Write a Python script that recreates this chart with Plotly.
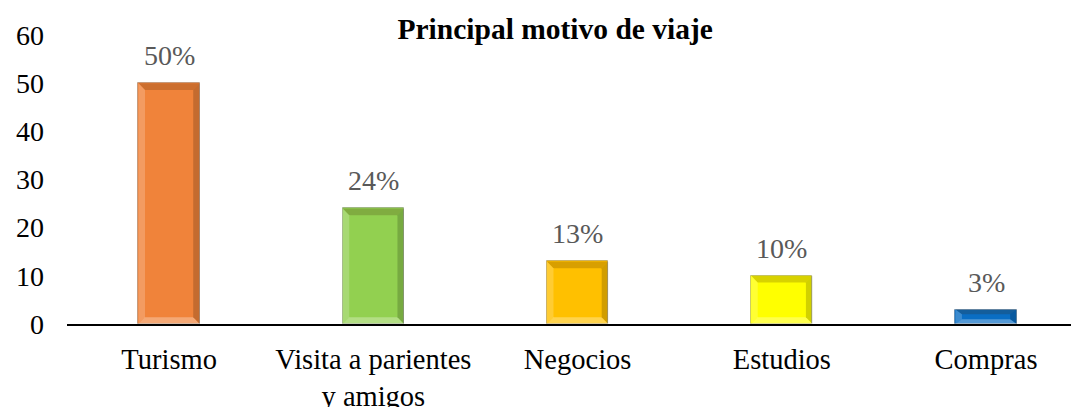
import plotly.graph_objects as go

categories = ["Turismo", "Visita a parientes<br>y amigos", "Negocios", "Estudios", "Compras"]
values = [50, 24, 13, 10, 3]
labels = ["50%", "24%", "13%", "10%", "3%"]
colors = ["#F0833A", "#92D050", "#FFC000", "#FFFF00", "#0A6EC4"]
y_ticks = [0, 10, 20, 30, 40, 50, 60]

BAR_W = 0.30
FONT = "Liberation Serif, Times New Roman, serif"

fig = go.Figure()
fig.add_trace(go.Bar(
    x=list(range(len(categories))), y=values,
    width=BAR_W,
    marker=dict(color=colors, line=dict(color="rgba(0,0,0,0.2)", width=1)),
    hoverinfo="skip", showlegend=False,
))

# bevel effect built from the data values
shapes = []
bx = 0.032
for i, v in enumerate(values):
    by = min(1.4, v * 0.33)
    x0, x1 = i - BAR_W / 2, i + BAR_W / 2
    def poly(pts, color):
        d = "M " + " L ".join(f"{px},{py}" for px, py in pts) + " Z"
        shapes.append(dict(type="path", path=d, xref="x", yref="y",
                           fillcolor=color, line=dict(width=0), layer="above"))
    poly([(x0, v), (x1, v), (x1 - bx, v - by), (x0 + bx, v - by)], "rgba(60,30,0,0.20)")
    poly([(x0, 0), (x1, 0), (x1 - bx, by), (x0 + bx, by)], "rgba(255,255,255,0.30)")
    poly([(x0, 0), (x0, v), (x0 + bx, v - by), (x0 + bx, by)], "rgba(255,255,255,0.20)")
    poly([(x1, 0), (x1, v), (x1 - bx, v - by), (x1 - bx, by)], "rgba(0,0,0,0.18)")

annotations = []
for i, (v, t) in enumerate(zip(values, labels)):
    annotations.append(dict(x=i, y=v, xref="x", yref="y", text=t, showarrow=False,
                            yanchor="bottom", yshift=10,
                            font=dict(family=FONT, size=28, color="#595959")))

fig.update_layout(
    width=1076, height=407,
    margin=dict(l=67, r=5, t=35, b=83),
    paper_bgcolor="white", plot_bgcolor="white",
    font=dict(family=FONT, size=28, color="#000000"),
    title=dict(text="<b>Principal motivo de viaje</b>", x=0.516, xref="container",
               y=1 - 29 / 407, yref="container", yanchor="middle", xanchor="center",
               font=dict(family=FONT, size=29.5, color="#000000")),
    shapes=shapes,
    annotations=annotations,
    bargap=0,
)
fig.update_xaxes(
    tickmode="array", tickvals=list(range(len(categories))), ticktext=categories,
    range=[-0.5, 4.416], showline=True, linecolor="#000000", linewidth=1.5,
    showgrid=False, zeroline=False, ticks="", ticklabelstandoff=9, automargin=False,
    tickfont=dict(family=FONT, size=28.5, color="#000000"),
)
fig.update_yaxes(
    range=[0, 60], tickvals=y_ticks, showgrid=False, zeroline=False, showline=False,
    ticks="", ticklabelstandoff=22, automargin=False,
    tickfont=dict(family=FONT, size=28, color="#000000"),
)

fig.write_html("out.html", config={"displayModeBar": False},
               post_script="document.body.style.margin='0';")
